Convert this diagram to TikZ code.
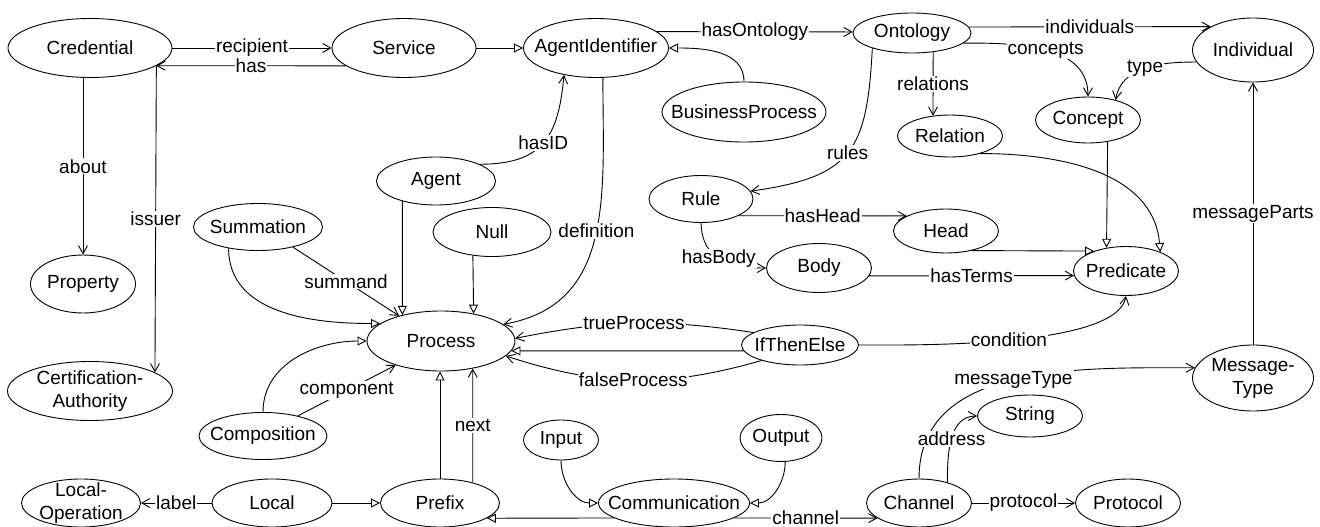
\documentclass[tikz,border=0pt]{standalone}
\usepackage{fontspec}
\setmainfont{Liberation Sans}
\usetikzlibrary{arrows.meta, shapes.geometric}

\begin{document}
\begin{tikzpicture}[
    x=1pt, y=-1pt,
    font=\fontsize{19}{23}\selectfont,
    cls/.style n args={3}{ellipse, draw, line width=0.9pt, inner sep=0pt,
        minimum width=#1, minimum height=#2, label={[ctext]center:#3}},
    ctext/.style={align=center, inner sep=0pt},
    rel/.style={-{Straight Barb[length=8pt, width=9pt]}, line width=0.9pt},
    isa/.style={-{Triangle[open, length=9pt, width=9pt]}, line width=0.9pt},
    elabel/.style={fill=white, inner sep=1pt},
]
\useasboundingbox (0,0) rectangle (1320,527);

% ── Classes ──
\node[cls={164}{59}{Credential}] (cred) at (90,48) {};
\node[cls={144}{59}{Service}] (serv) at (404,48) {};
\node[cls={145}{59}{AgentIdentifier}] (aid) at (596,48) {};
\node[cls={118}{40}{Ontology}] (onto) at (912,33) {};
\node[cls={121}{64}{Individual}] (indiv) at (1253,50) {};
\node[cls={105}{46}{Concept}] (conc) at (1088,120) {};
\node[cls={105}{42}{Relation}] (relat) at (950,136) {};
\node[cls={164}{60}{BusinessProcess}] (bproc) at (744,112) {};
\node[cls={119}{48}{Agent}] (agent) at (436,181) {};
\node[cls={104}{47}{Rule}] (rule) at (701,199) {};
\node[cls={105}{44}{Head}] (head) at (946,231) {};
\node[cls={105}{49}{Body}] (body) at (819,268) {};
\node[cls={105}{49}{Predicate}] (pred) at (1126,271) {};
\node[cls={129}{47}{Summation}] (summ) at (258,227) {};
\node[cls={118}{49}{Null}] (nullp) at (492,232) {};
\node[cls={105}{58}{Property}] (prop) at (83,284) {};
\node[cls={148}{60}{Process}] (proc) at (441,341) {};
\node[cls={117}{40}{IfThenElse}] (ifte) at (800,345) {};
\node[cls={165}{59}{Certification-\\Authority}] (certa) at (90,391) {};
\node[cls={128}{47}{Composition}] (comp) at (263,436) {};
\node[cls={121}{66}{Message-\\Type}] (mtype) at (1253,378) {};
\node[cls={105}{42}{String}] (str) at (1030,416) {};
\node[cls={75}{40}{Input}] (inp) at (561,440) {};
\node[cls={82}{47}{Output}] (outp) at (781,438) {};
\node[cls={151}{48}{Communication}] (comm) at (674,503) {};
\node[cls={119}{48}{Prefix}] (prefix) at (440,503) {};
\node[cls={120}{48}{Local}] (local) at (272,503) {};
\node[cls={119}{48}{Local-\\Operation}] (lop) at (81,503) {};
\node[cls={105}{48}{Channel}] (chan) at (919,503) {};
\node[cls={105}{48}{Protocol}] (prot) at (1128,503) {};

% ── Credential ──
\draw[rel] (cred.east) -- node[elabel] {recipient} (serv.west);
\draw[rel] (serv.197) -- node[elabel] {has} (cred.-15);
\draw[rel] (prop.north |- cred.south) -- node[elabel] {about} (prop.north);
\draw[rel] (cred.-15) -- node[elabel] {issuer} (certa.16);

% ── AgentIdentifier ──
\draw[isa] (serv.east) -- (aid.west);
\draw[rel] (aid.15) -- node[elabel] {hasOntology} (onto.179);
\draw[isa] (bproc.north) to[out=90, in=0] (aid.east);
\draw[rel] (agent.21) to[out=0, in=-95, looseness=1.3] node[elabel] {hasID} (aid.220);

% ── Process ──
\draw[isa] (agent.211) -- (proc.146);
\draw[isa] (nullp.231) -- (proc.40);
\draw[rel] (aid.283) to[out=-90, in=10, looseness=1.1] node[elabel, pos=0.48] {definition} (proc.15);
\draw[rel] (summ.-30) -- node[elabel] {summand} (proc.149);
\draw[isa] (summ.216) to[out=-90, in=180] (proc.164);
\draw[isa] (comp.north) to[out=90, in=180] (proc.west);
\draw[rel] (comp.30) -- node[elabel] {component} (proc.208);
\draw[isa] (prefix.north) -- (prefix.north |- proc.south);
\draw[rel] (prefix.32) -- node[elabel] {next} (proc.-41);

% ── IfThenElse ──
\draw[rel] (ifte.165) to[bend right=10] node[elabel] {trueProcess} (proc.2);
\draw[isa] (ifte.186) -- (proc.-8);
\draw[rel] (ifte.202) to[bend left=17] node[elabel] {falseProcess} (proc.-13);
\draw[rel] (ifte.east) to[out=0, in=-100, looseness=0.5] node[elabel] {condition} (pred.south);

% ── Ontology ──
\draw[rel] (onto.6) -- node[elabel] {individuals} (indiv.151);
\draw[rel] (onto.-11) to[out=0, in=90] node[elabel] {concepts} (conc.north);
\draw[rel] (indiv.192) to[out=180, in=80] node[elabel] {type} (conc.36);
\draw[rel] (onto.-42) -- node[elabel] {relations} (relat.130);
\draw[rel] (onto.201) to[out=-93, in=8, looseness=1.4] node[elabel] {rules} (rule.9);

% ── Rules and predicates ──
\draw[rel] (rule.-24) -- node[elabel] {hasHead} (head.159);
\draw[rel] (rule.south) to[out=-88, in=180, looseness=1.2] node[elabel, pos=0.48] {hasBody} (body.west);
\draw[rel] (body.-9) -- node[elabel] {hasTerms} (pred.185);
\draw[isa] (head.-37) -- (pred.148);
\draw[isa] (conc.-48) -- (pred.130);
\draw[isa] (relat.-30) to[out=0, in=95] (pred.29);

% ── Messages and channels ──
\draw[rel] (mtype.north) -- node[elabel] {messageParts} (indiv.south);
\draw[rel] (chan.north) to[out=90, in=180] node[elabel] {messageType} (mtype.170);
\draw[rel] (chan.36) to[out=90, in=180] node[elabel] {address} (str.west);
\draw[rel] (chan.east) -- node[elabel] {protocol} (prot.west);
\draw[rel] (comm.-14) -- node[elabel] {channel} (chan.200);
\draw[isa] (comm.194) -- (prefix.-18);
\draw[isa] (inp.south) to[out=-90, in=180] (comm.west);
\draw[isa] (outp.-80) to[out=-90, in=0] (comm.east);

% ── Local ──
\draw[isa] (local.east) -- (prefix.west);
\draw[rel] (local.west) -- node[elabel] {label} (lop.east);

\end{tikzpicture}
\end{document}
